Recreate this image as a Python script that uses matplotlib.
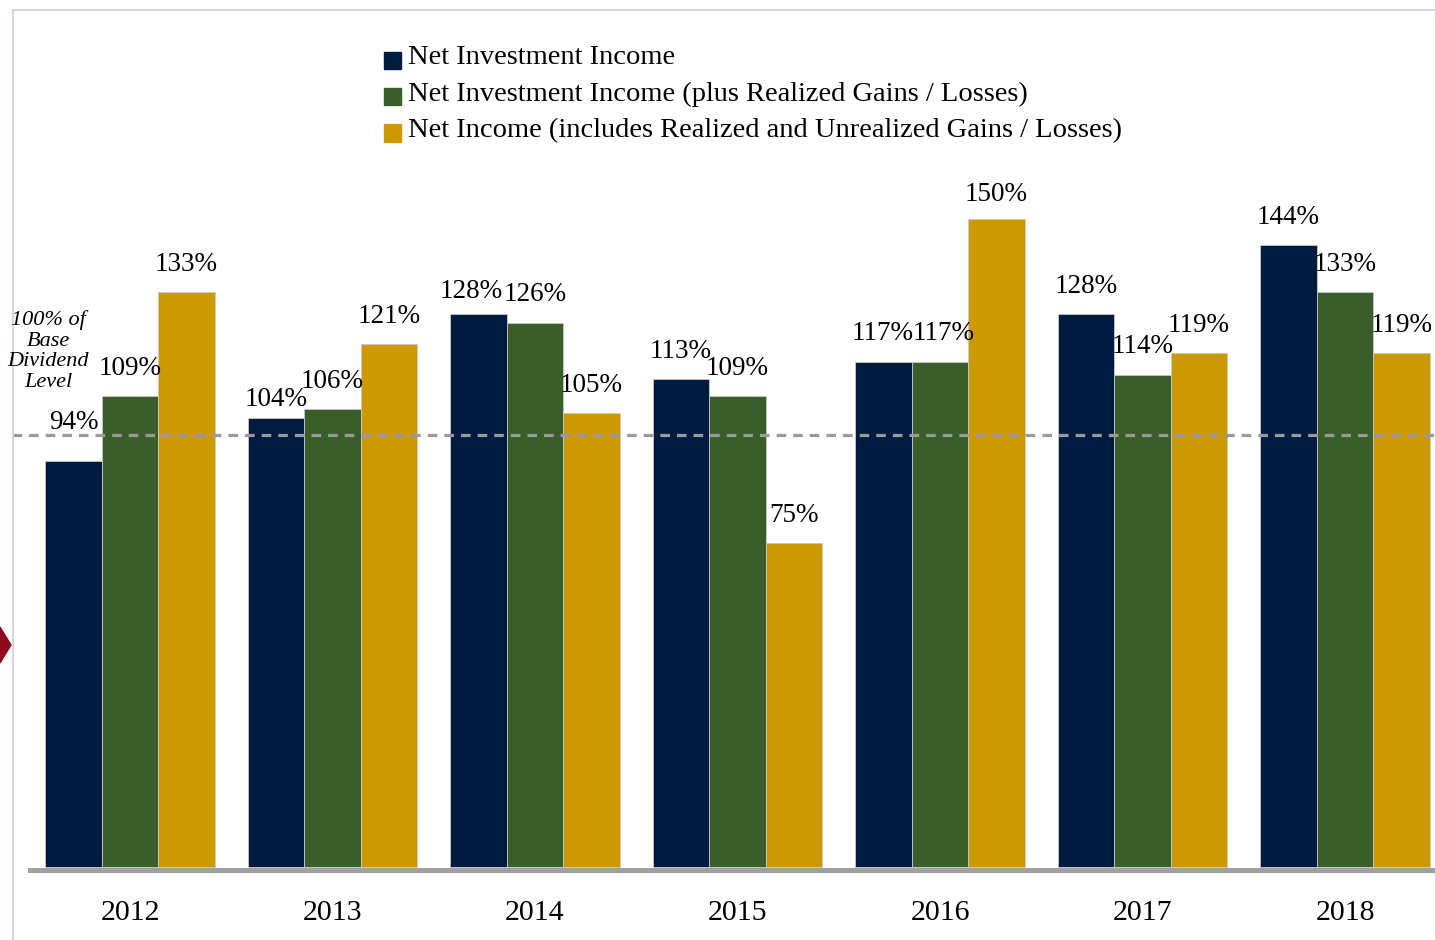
import matplotlib
matplotlib.use("Agg")
import matplotlib.pyplot as plt
from matplotlib.patches import Rectangle, Polygon
from matplotlib.lines import Line2D
import numpy as np

years = ["2012", "2013", "2014", "2015", "2016", "2017", "2018"]
nii = [94, 104, 128, 113, 117, 128, 144]
nii_gains = [109, 106, 126, 109, 117, 114, 133]
net_income = [133, 121, 105, 75, 150, 119, 119]

series_names = [
    "Net Investment Income",
    "Net Investment Income (plus Realized Gains / Losses)",
    "Net Income (includes Realized and Unrealized Gains / Losses)",
]
colors = ["#001B40", "#3A5E29", "#CC9900"]
base_level = 100

W, H = 1435, 940
FONT = "Liberation Serif"

fig = plt.figure(figsize=(W / 100, H / 100), dpi=100)


def px(x, y):
    # pixel (from top-left) -> figure fraction
    return x / W, 1 - y / H


# axes placed in pixel terms: left 30, right 1435, top 10, bottom 869.5
ax = fig.add_axes([30 / W, 1 - 869.5 / H, (1435 - 30) / W, (869.5 - 10) / H])
ax.set_xlim(-0.494, 6.444)
ax.set_ylim(-0.58, 198.4)

x = np.arange(len(years))
width = 0.279
all_series = [nii, nii_gains, net_income]

# label offsets from bar top (points); a few labels sit off the usual spot
label_dy = {(0, 0): 28, (1, 0): 13, (2, 0): 16, (4, 2): 18}
label_dx = {(2, 0): -5, (4, 1): 2.5, (4, 0): -1}

for j, vals in enumerate(all_series):
    xs = x + (j - 1) * width
    ax.bar(xs, vals, width, color=colors[j], edgecolor="#c8c8c8",
           linewidth=0.6, zorder=2)
    for i, v in enumerate(vals):
        dy = label_dy.get((i, j), 20)
        dx = label_dx.get((i, j), 0)
        ax.annotate(f"{v}%", (xs[i], v), xytext=(dx, dy),
                    textcoords="offset points", ha="center", va="center",
                    fontsize=19.5, family=FONT, color="black", zorder=5)

ax.axhline(base_level, xmin=-0.0128, xmax=1, color="#9a9a9a", lw=2.3,
           dashes=(3.0, 2.2), clip_on=False, zorder=3)

for s in ["top", "right", "left"]:
    ax.spines[s].set_visible(False)
ax.spines["bottom"].set_color("#a0a0a0")
ax.spines["bottom"].set_linewidth(3.6)
ax.spines["bottom"].set_zorder(4)
ax.set_yticks([])
ax.set_xticks(x)
ax.set_xticklabels(years, fontsize=21.5, family=FONT)
ax.tick_params(axis="x", length=0, pad=22)
ax.patch.set_alpha(0)

# base dividend note
fig.text(*px(48, 351), "100% of\nBase\nDividend\nLevel", ha="center",
         va="center", fontsize=16, style="italic", family=FONT,
         linespacing=1.13)

# legend
for k, name in enumerate(series_names):
    yc = 60 + k * 36.5
    x0, y0 = px(384, yc + 8.5)
    fig.add_artist(Rectangle((x0, y0), 17 / W, 17 / H, transform=fig.transFigure,
                             color=colors[k]))
    fig.text(*px(408, yc - 2), name, ha="left", va="center", fontsize=20.5,
             family=FONT)

# frame lines
fig.add_artist(Line2D([13 / W, 1], [1 - 10 / H, 1 - 10 / H],
                      transform=fig.transFigure, color="#ddd4e0", lw=1.5))
fig.add_artist(Line2D([13 / W, 13 / W], [0, 1 - 10 / H],
                      transform=fig.transFigure, color="#ddd4e0", lw=1.5))

# red marker at the left edge
fig.add_artist(Polygon([px(0, 627), px(11, 645), px(0, 663)], closed=True,
                       transform=fig.transFigure, color="#8B0A1E"))

fig.savefig("out.png", dpi=100)
